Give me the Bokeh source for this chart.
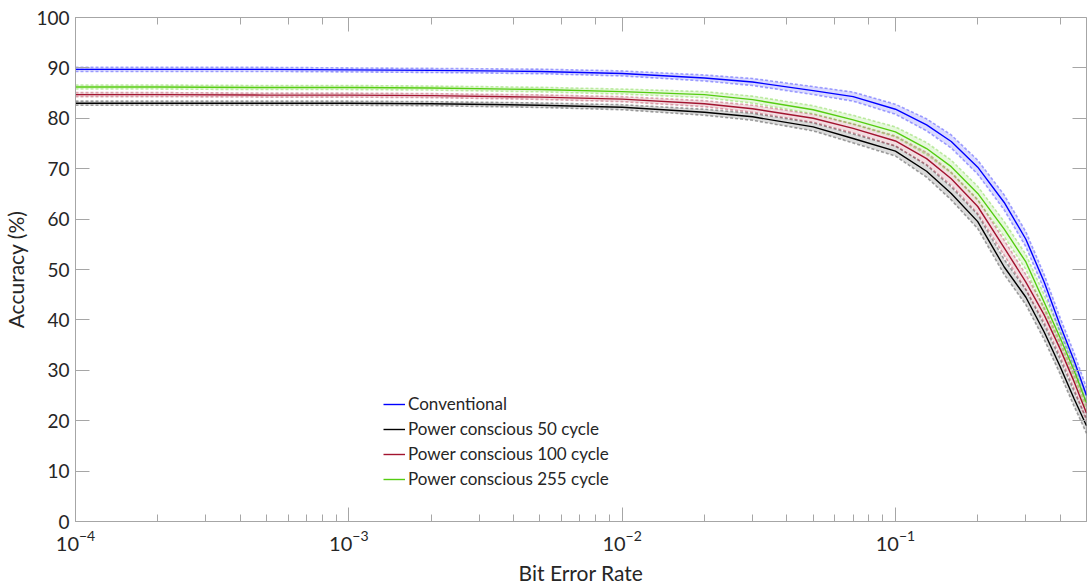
from bokeh.plotting import figure
from bokeh.models import (LogAxis, LinearAxis, Legend, LegendItem, Range1d, FixedTicker,
                          LogTicker, CustomJSTickFormatter)
from bokeh.embed import file_html
from bokeh.resources import INLINE

# ---- data ----
ber = [1e-4, 2e-4, 5e-4, 1e-3, 2e-3, 5e-3, 1e-2, 2e-2, 3e-2, 5e-2, 7e-2,
       0.1, 0.13, 0.16, 0.2, 0.25, 0.3, 0.35, 0.4, 0.45, 0.5]
conventional = [89.7, 89.7, 89.7, 89.6, 89.5, 89.3, 88.9, 88.0, 87.2, 85.5, 84.3,
                81.8, 78.7, 75.4, 70.3, 63.3, 56.0, 47.5, 39.0, 32.0, 25.0]
pc_50 = [83.0, 83.0, 83.0, 83.0, 82.9, 82.6, 82.2, 81.2, 80.3, 78.3, 76.0,
         73.5, 69.5, 65.1, 59.5, 50.5, 44.5, 37.6, 30.8, 24.4, 19.0]
pc_100 = [84.7, 84.7, 84.6, 84.6, 84.5, 84.2, 83.8, 82.9, 81.9, 80.0, 78.0,
          75.5, 72.0, 68.0, 62.5, 54.3, 47.5, 41.0, 34.3, 27.8, 21.5]
pc_255 = [86.2, 86.2, 86.1, 86.1, 86.0, 85.7, 85.3, 84.7, 83.7, 81.7, 79.7,
          77.3, 74.0, 70.4, 65.1, 58.0, 51.5, 43.5, 36.5, 30.0, 23.5]

conventional_sd = [0.4, 0.4, 0.4, 0.4, 0.4, 0.45, 0.5, 0.6, 0.7, 0.8, 0.9,
                   1.0, 1.2, 1.3, 1.4, 1.5, 1.5, 1.5, 1.5, 1.5, 1.5]
pc_50_sd = [0.4, 0.4, 0.4, 0.4, 0.4, 0.45, 0.5, 0.6, 0.7, 0.8, 0.9,
            1.0, 1.2, 1.3, 1.4, 1.5, 1.5, 1.5, 1.5, 1.5, 1.5]
pc_100_sd = [0.4, 0.4, 0.4, 0.4, 0.4, 0.45, 0.5, 0.6, 0.7, 0.8, 0.9,
             1.0, 1.2, 1.3, 1.4, 1.5, 1.5, 1.5, 1.5, 1.5, 1.5]
pc_255_sd = [0.4, 0.4, 0.4, 0.4, 0.4, 0.45, 0.5, 0.6, 0.7, 0.8, 0.9,
             1.0, 1.2, 1.3, 1.4, 1.5, 1.5, 1.5, 1.5, 1.5, 1.5]

labels = ["Conventional", "Power conscious 50 cycle",
          "Power conscious 100 cycle", "Power conscious 255 cycle"]
series = [conventional, pc_50, pc_100, pc_255]
spreads = [conventional_sd, pc_50_sd, pc_100_sd, pc_255_sd]
colors = ["#0000FF", "#000000", "#A2142F", "#55CC11"]
y_ticks = [0, 10, 20, 30, 40, 50, 60, 70, 80, 90, 100]

FONT = "Lato"
AX = "#A6A6A6"
TXT = "#262626"

p = figure(width=1088, height=587, x_axis_type="log",
           x_range=Range1d(1e-4, 0.5), y_range=Range1d(0, 100),
           output_backend="svg", toolbar_location=None,
           min_border_left=75, min_border_right=2,
           min_border_top=17, min_border_bottom=65)
p.background_fill_color = "white"
p.border_fill_color = "white"
p.outline_line_color = AX
p.grid.visible = False

# bands + dashed bounds
for ys, sd, c in zip(series, spreads, colors):
    lo = [v - s for v, s in zip(ys, sd)]
    hi = [v + s for v, s in zip(ys, sd)]
    p.varea(x=ber, y1=lo, y2=hi, fill_color=c, fill_alpha=0.14)
    p.line(ber, lo, line_color=c, line_alpha=0.35, line_width=1.6, line_dash="3 2")
    p.line(ber, hi, line_color=c, line_alpha=0.35, line_width=1.6, line_dash="3 2")

renderers = []
for ys, c in zip(series, colors):
    r = p.line(ber, ys, line_color=c, line_width=1.4)
    renderers.append(r)

# axes styling
xa = p.xaxis[0]
ya = p.yaxis[0]
for ax in (xa, ya):
    ax.axis_line_color = AX
    ax.major_tick_line_color = AX
    ax.minor_tick_line_color = AX
    ax.major_tick_in = 14
    ax.major_tick_out = 0
    ax.minor_tick_in = 7
    ax.minor_tick_out = 0
    ax.major_label_text_color = TXT
    ax.major_label_text_font = FONT
    ax.axis_label_text_color = TXT
    ax.axis_label_text_font = FONT
    ax.axis_label_text_font_size = "21px"
    ax.axis_label_text_font_style = "normal"
xa.major_label_text_font_size = "20px"
ya.major_label_text_font_size = "19px"
xa.axis_label = "Bit Error Rate"
ya.axis_label = "Accuracy (%)"
ya.ticker = FixedTicker(ticks=y_ticks)
ya.minor_tick_line_color = None
ya.major_label_standoff = 6
xa.major_label_standoff = 9
xa.axis_label_standoff = 6
ya.axis_label_standoff = 5

blank = CustomJSTickFormatter(code="return '';")

top = LogAxis(ticker=LogTicker(), formatter=blank)
top.axis_line_color = None
top.major_tick_line_color = AX
top.minor_tick_line_color = AX
top.major_tick_in = 14
top.major_tick_out = 0
top.minor_tick_in = 7
top.minor_tick_out = 0
top.major_label_standoff = 0
p.add_layout(top, "above")

right = LinearAxis(ticker=FixedTicker(ticks=y_ticks), formatter=blank)
right.axis_line_color = None
right.major_tick_line_color = AX
right.minor_tick_line_color = None
right.major_tick_in = 14
right.major_tick_out = 0
right.major_label_standoff = 0
p.add_layout(right, "right")

legend = Legend(items=[LegendItem(label=l, renderers=[r]) for l, r in zip(labels, renderers)],
                location=(308, 32))
legend.background_fill_alpha = 0
legend.border_line_color = None
legend.label_text_font = FONT
legend.label_text_font_size = "17px"
legend.label_text_color = TXT
legend.glyph_width = 22
legend.glyph_height = 20
legend.label_height = 20
legend.label_standoff = 3
legend.spacing = 4
legend.padding = 5
p.add_layout(legend)

open("out.html", "w").write(file_html(p, INLINE))
